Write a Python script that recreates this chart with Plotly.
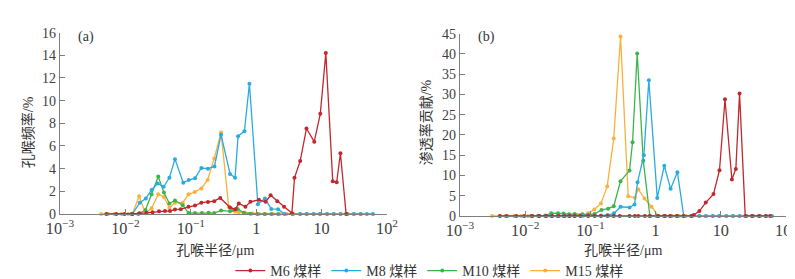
import plotly.graph_objects as go

# ---------------- data (pore throat radius in µm) ----------------
# (a) pore throat frequency /%
m6_r_a = [0.00511, 0.00728, 0.00966, 0.0128, 0.0164, 0.0210, 0.0260, 0.0327, 0.0403, 0.0481,
          0.0573, 0.0702, 0.0922, 0.116, 0.145, 0.183, 0.228, 0.282, 0.398, 0.481, 0.542,
          0.684, 0.817, 1.10, 1.39, 1.66, 2.10, 2.67, 3.52, 3.85, 4.70, 5.87, 7.72, 9.55,
          11.6, 14.8, 17.0, 19.4, 23.7]
m6_a = [0, 0, 0, 0, 0.06, 0.1, 0.15, 0.25, 0.26, 0.26, 0.4, 0.43, 0.64, 0.75, 1.0, 1.05,
        1.13, 1.42, 0.58, 0.43, 0.93, 0.64, 1.07, 1.25, 1.07, 1.65, 1.13, 0.64, 0.06, 3.19,
        4.67, 7.54, 6.38, 8.84, 14.2, 2.9, 2.8, 5.36, 0]

m8_r = [0.0128, 0.0166, 0.0205, 0.0251, 0.0311, 0.0384, 0.0470, 0.0573, 0.0767, 0.0931,
        0.116, 0.145, 0.183, 0.230, 0.290, 0.398, 0.475, 0.528, 0.661, 0.788, 1.06, 1.36,
        1.70, 2.16, 2.70, 3.58, 4.70, 5.87, 7.53, 9.42, 12.1, 15.3, 19.4, 24.5, 31.0,
        39.4, 49.2, 61.0]
m8_a = [0, 1.0, 1.37, 2.12, 2.7, 2.4, 3.2, 4.84, 2.76, 3.0, 3.16, 4.06, 4.0, 4.2, 7.0,
        3.54, 3.2, 6.87, 7.3, 11.5, 0.85, 1.36, 0.45, 0.43, 0, 0, 0, 0, 0, 0, 0, 0, 0, 0,
        0, 0, 0, 0]

m10_r = [0.0124, 0.0157, 0.0203, 0.0251, 0.0318, 0.0388, 0.0470, 0.0573, 0.0753, 0.0922,
         0.116, 0.148, 0.187, 0.228, 0.290, 0.398, 0.443, 0.522, 0.647, 0.817, 1.04, 1.34,
         1.70, 2.16]
m10_a = [0, 0, 0.35, 1.75, 3.3, 1.9, 0.93, 1.2, 0.78, 0.08, 0.08, 0.08, 0.1, 0.08, 0.3,
         0.25, 0.35, 0.45, 0.1, 0.02, 0, 0, 0, 0]

m15_r = [0.00427, 0.00542, 0.00677, 0.00868, 0.0110, 0.0128, 0.0162, 0.0203, 0.0251,
         0.0318, 0.0388, 0.0470, 0.0573, 0.0753, 0.0922, 0.115, 0.145, 0.181, 0.228, 0.290,
         0.380, 0.481, 0.542, 0.677, 0.867, 1.10, 1.40, 1.80, 2.30, 2.90, 3.70, 4.70, 6.00,
         7.60, 9.60, 12.2, 15.5, 19.7, 25.0, 31.5, 39.8]
m15_a = [0, 0, 0, 0, 0, 0, 1.57, 0.06, 0.5, 1.74, 1.5, 0.55, 1.0, 1.0, 1.74, 1.94, 2.25,
         3.0, 4.9, 7.2, 0.64, 0.2, 0.15, 0.1, 0.05, 0, 0, 0, 0, 0, 0, 0, 0, 0, 0, 0, 0, 0,
         0, 0, 0]

# (b) permeability contribution /%
m6_r_b = [0.0041, 0.0051, 0.0073, 0.0097, 0.0128, 0.0164, 0.0210, 0.0260, 0.0327, 0.0403,
          0.0481, 0.0573, 0.0702, 0.0922, 0.116, 0.145, 0.183, 0.228, 0.282, 0.398, 0.481,
          0.542, 0.684, 0.817, 1.10, 1.39, 1.66, 2.10, 2.67, 3.52, 3.85, 4.70, 5.87, 7.72,
          9.55, 11.6, 14.8, 17.0, 19.4, 23.7, 30.0, 38.4, 49.2, 57.0]
m6_b = [0] * 30 + [0.24, 1.2, 3.3, 5.4, 11.3, 28.8, 9.0, 11.6, 30.2, 0, 0, 0, 0, 0]

m8_b = [0, 0, 0, 0, 0, 0, 0, 0, 0.05, 0.05, 0.1, 0.1, 0.24, 0.65, 2.27, 2.1, 2.84, 8.3,
        15.0, 33.5, 4.46, 12.4, 6.7, 10.8, 0, 0, 0, 0, 0, 0, 0, 0, 0, 0, 0, 0, 0, 0]

m10_b = [0, 0.05, 0.1, 0.7, 0.7, 0.6, 0.4, 0.5, 0.4, 0.3, 0.5, 1.5, 1.8, 2.4, 8.6, 11.2,
         18.2, 40.1, 13.6, 0, 0, 0, 0, 0]

m15_r_b = [0.0031, 0.0040, 0.0054, 0.0068, 0.0087, 0.0110, 0.0128, 0.0162, 0.0203, 0.0251,
           0.0318, 0.0388, 0.0470, 0.0573, 0.0753, 0.0922, 0.115, 0.145, 0.181, 0.228,
           0.290, 0.380, 0.481, 0.542, 0.677, 0.867, 1.10, 1.40, 1.80, 2.30, 2.90, 3.70,
           4.70, 6.00, 7.60, 9.60, 12.2, 15.5, 19.7, 25.0, 31.5, 39.8]
m15_b = [0, 0, 0, 0, 0, 0, 0, 0, 0, 0, 0, 0, 0, 0, 0.3, 0.65, 1.6, 3.1, 7.3, 19.1, 44.3,
         4.86, 4.5, 6.6, 4.3, 2.27, 0, 0, 0, 0, 0, 0, 0, 0, 0, 0, 0, 0, 0, 0, 0, 0]

names = ["M6 煤样", "M8 煤样", "M10 煤样", "M15 煤样"]
colors = ["#C1272D", "#29ABE2", "#39B54A", "#FBB03B"]

series_a = [(m6_r_a, m6_a), (m8_r, m8_a), (m10_r, m10_a), (m15_r, m15_a)]
series_b = [(m6_r_b, m6_b), (m8_r, m8_b), (m10_r, m10_b), (m15_r_b, m15_b)]

FONT = "Times New Roman, Liberation Serif, Noto Sans CJK SC, serif"
TXT = "#333333"
AX = "#7f7f7f"

fig = go.Figure()

for i in [3, 2, 1, 0]:
    r, v = series_a[i]
    fig.add_trace(go.Scatter(x=r, y=v, mode="lines+markers", name=names[i],
                             line=dict(color=colors[i], width=1.3),
                             marker=dict(color=colors[i], size=4),
                             legendrank=i + 1, cliponaxis=False,
                             xaxis="x", yaxis="y"))
for i in [3, 2, 1, 0]:
    r, v = series_b[i]
    fig.add_trace(go.Scatter(x=r, y=v, mode="lines+markers", name=names[i],
                             line=dict(color=colors[i], width=1.3),
                             marker=dict(color=colors[i], size=4),
                             showlegend=False, cliponaxis=False,
                             xaxis="x2", yaxis="y2"))

W, H = 795, 279
xcommon = dict(type="log", range=[-3, 2], dtick=1, exponentformat="power",
               showgrid=False, zeroline=False, showline=True, linecolor=AX, linewidth=1.2,
               ticks="inside", ticklen=5, tickcolor=AX, tickwidth=1.2,
               tickfont=dict(family=FONT, size=13, color="#404040"), automargin=False)
ycommon = dict(showgrid=False, zeroline=False, showline=True, linecolor=AX, linewidth=1.2,
               ticks="inside", ticklen=5, tickcolor=AX, tickwidth=1.2,
               tickfont=dict(family=FONT, size=14, color="#404040"), automargin=False)

fig.update_layout(
    width=W, height=H,
    margin=dict(l=0, r=0, t=0, b=0),
    paper_bgcolor="white", plot_bgcolor="white",
    xaxis=dict(domain=[52 / W, 379 / W], anchor="y", **xcommon),
    yaxis=dict(domain=[1 - 209 / H, 1 - 25 / H], range=[0, 16], dtick=2, anchor="x",
               **ycommon),
    xaxis2=dict(domain=[452 / W, 778 / W], anchor="y2", **xcommon),
    yaxis2=dict(domain=[1 - 211 / H, 1 - 26 / H], range=[0, 45], dtick=5, anchor="x2",
                **ycommon),
    legend=dict(orientation="h", x=0.53, xanchor="center", y=1 - 267 / H, yanchor="middle",
                font=dict(family=FONT, size=14, color=TXT), itemwidth=30,
                tracegroupgap=0, bgcolor="rgba(0,0,0,0)"),
    showlegend=True,
)

annos = [
    dict(text="(a)", x=78 / W, y=1 - 29 / H),
    dict(text="(b)", x=478 / W, y=1 - 29 / H),
    dict(text="孔喉半径/μm", x=207 / W, y=1 - 246 / H),
    dict(text="孔喉半径/μm", x=615 / W, y=1 - 246 / H),
    dict(text="孔喉频率/%", x=20 / W, y=1 - 126 / H, textangle=-90),
    dict(text="渗透率贡献/%", x=418 / W, y=1 - 116 / H, textangle=-90),
]
for a in annos:
    fig.add_annotation(xref="paper", yref="paper", showarrow=False,
                       xanchor="center", yanchor="middle",
                       font=dict(family=FONT, size=14, color=TXT), **a)

fig.write_html("out.html")
